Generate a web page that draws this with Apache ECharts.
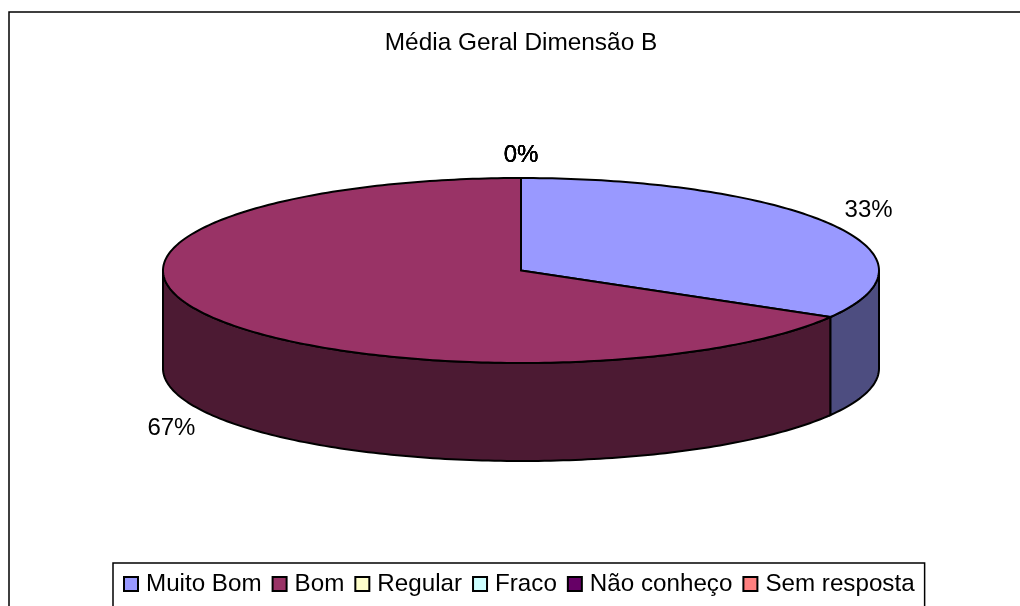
<!DOCTYPE html>
<html>
<head>
<meta charset="utf-8">
<title>Média Geral Dimensão B</title>
<script src="https://cdn.jsdelivr.net/npm/echarts@6/dist/echarts.min.js"></script>
<style>
  html, body { margin: 0; padding: 0; background: #fff; }
  #chart { width: 1020px; height: 606px; }
</style>
</head>
<body>
<div id="chart"></div>
<script>
const titleText = 'Média Geral Dimensão B'
const categories = ['Muito Bom', 'Bom', 'Regular', 'Fraco', 'Não conheço', 'Sem resposta']
const shares = [33.4, 66.6, 0, 0, 0, 0]
const topColors = ['#9999FF', '#993366', '#FFFFCC', '#CCFFFF', '#660066', '#FF8080']
const sideColors = ['#4D4D80', '#4C1A33', '#808066', '#668080', '#330033', '#804040']

// geometry of the flattened pie
const cx = 521
const cy = 270.5
const rx = 358
const ry = 92.5
const depth = 98
const font = '"Liberation Sans", Arial, sans-serif'

const total = shares.reduce((a, b) => a + b, 0)
const deg = Math.PI / 180

// angle counted clockwise from 12 o'clock
const rim = (a, drop) => [cx + rx * Math.sin(a * deg), cy - ry * Math.cos(a * deg) + drop]

const arc = (from, to, drop) => {
  const pts = []
  for (let a = from; a < to; a += 1) pts.push(rim(a, drop))
  pts.push(rim(to, drop))
  return pts
}

const renderSlice = (params, api) => {
  const idx = params.seriesIndex
  const value = api.value(0)
  const before = shares.slice(0, idx).reduce((a, b) => a + b, 0)
  const start = before / total * 360
  const end = start + value / total * 360
  const children = []

  if (value > 0) {
    // only the front half of the rim (90..270) can be seen
    const sideFrom = Math.max(start, 90)
    const sideTo = Math.min(end, 270)
    if (sideTo > sideFrom) {
      children.push({
        type: 'polygon',
        shape: { points: arc(sideFrom, sideTo, 0).concat(arc(sideFrom, sideTo, depth).reverse()) },
        style: { fill: sideColors[idx], stroke: '#000', lineWidth: 2 }
      })
    }
    children.push({
      type: 'polygon',
      shape: { points: [[cx, cy]].concat(arc(start, end, 0)) },
      style: { fill: topColors[idx], stroke: '#000', lineWidth: 2 }
    })
  }

  // label sits outside the rim, the zero slices all pile up at 12 o'clock
  const mid = (start + end) / 2
  const cos = Math.cos(mid * deg)
  const gap = 5 + 18 * Math.abs(cos)
  children.push({
    type: 'text',
    z2: 10,
    style: {
      text: Math.round(value / total * 100) + '%',
      x: cx + (rx + 44) * Math.sin(mid * deg) - (value > 0 ? 1 : 0),
      y: cy - ry * cos + (cos < 0 ? depth + gap : -gap),
      fill: '#000',
      font: '24px ' + font,
      align: 'center',
      verticalAlign: 'middle'
    }
  })

  return { type: 'group', children }
}

const myChart = echarts.init(document.getElementById('chart'))

myChart.setOption({
  animation: false,
  backgroundColor: '#fff',
  title: {
    text: titleText,
    left: 516,
    top: 26,
    textAlign: 'center',
    textStyle: {
      color: '#000',
      fontFamily: font,
      fontSize: 24.4,
      fontWeight: 'normal'
    }
  },
  legend: {
    left: 113,
    top: 563,
    padding: [9, 10, 30, 10],
    borderColor: '#000',
    borderWidth: 1.5,
    itemWidth: 14,
    itemHeight: 14,
    itemGap: 10,
    icon: 'rect',
    selectedMode: false,
    itemStyle: {
      borderColor: '#000',
      borderWidth: 2
    },
    textStyle: {
      color: '#000',
      fontFamily: font,
      fontSize: 24.2,
      padding: [0, 0, 0, 3]
    },
    data: categories
  },
  graphic: [
    {
      // chart frame, runs off the right and bottom of the picture
      type: 'rect',
      silent: true,
      z: -1,
      shape: { x: 9, y: 12, width: 1040, height: 620 },
      style: { fill: 'none', stroke: '#000', lineWidth: 1.5 }
    }
  ],
  series: categories.map((name, i) => ({
    type: 'custom',
    name,
    coordinateSystem: 'none',
    silent: true,
    itemStyle: { color: topColors[i] },
    renderItem: renderSlice,
    data: [[shares[i]]]
  }))
})
</script>
</body>
</html>
